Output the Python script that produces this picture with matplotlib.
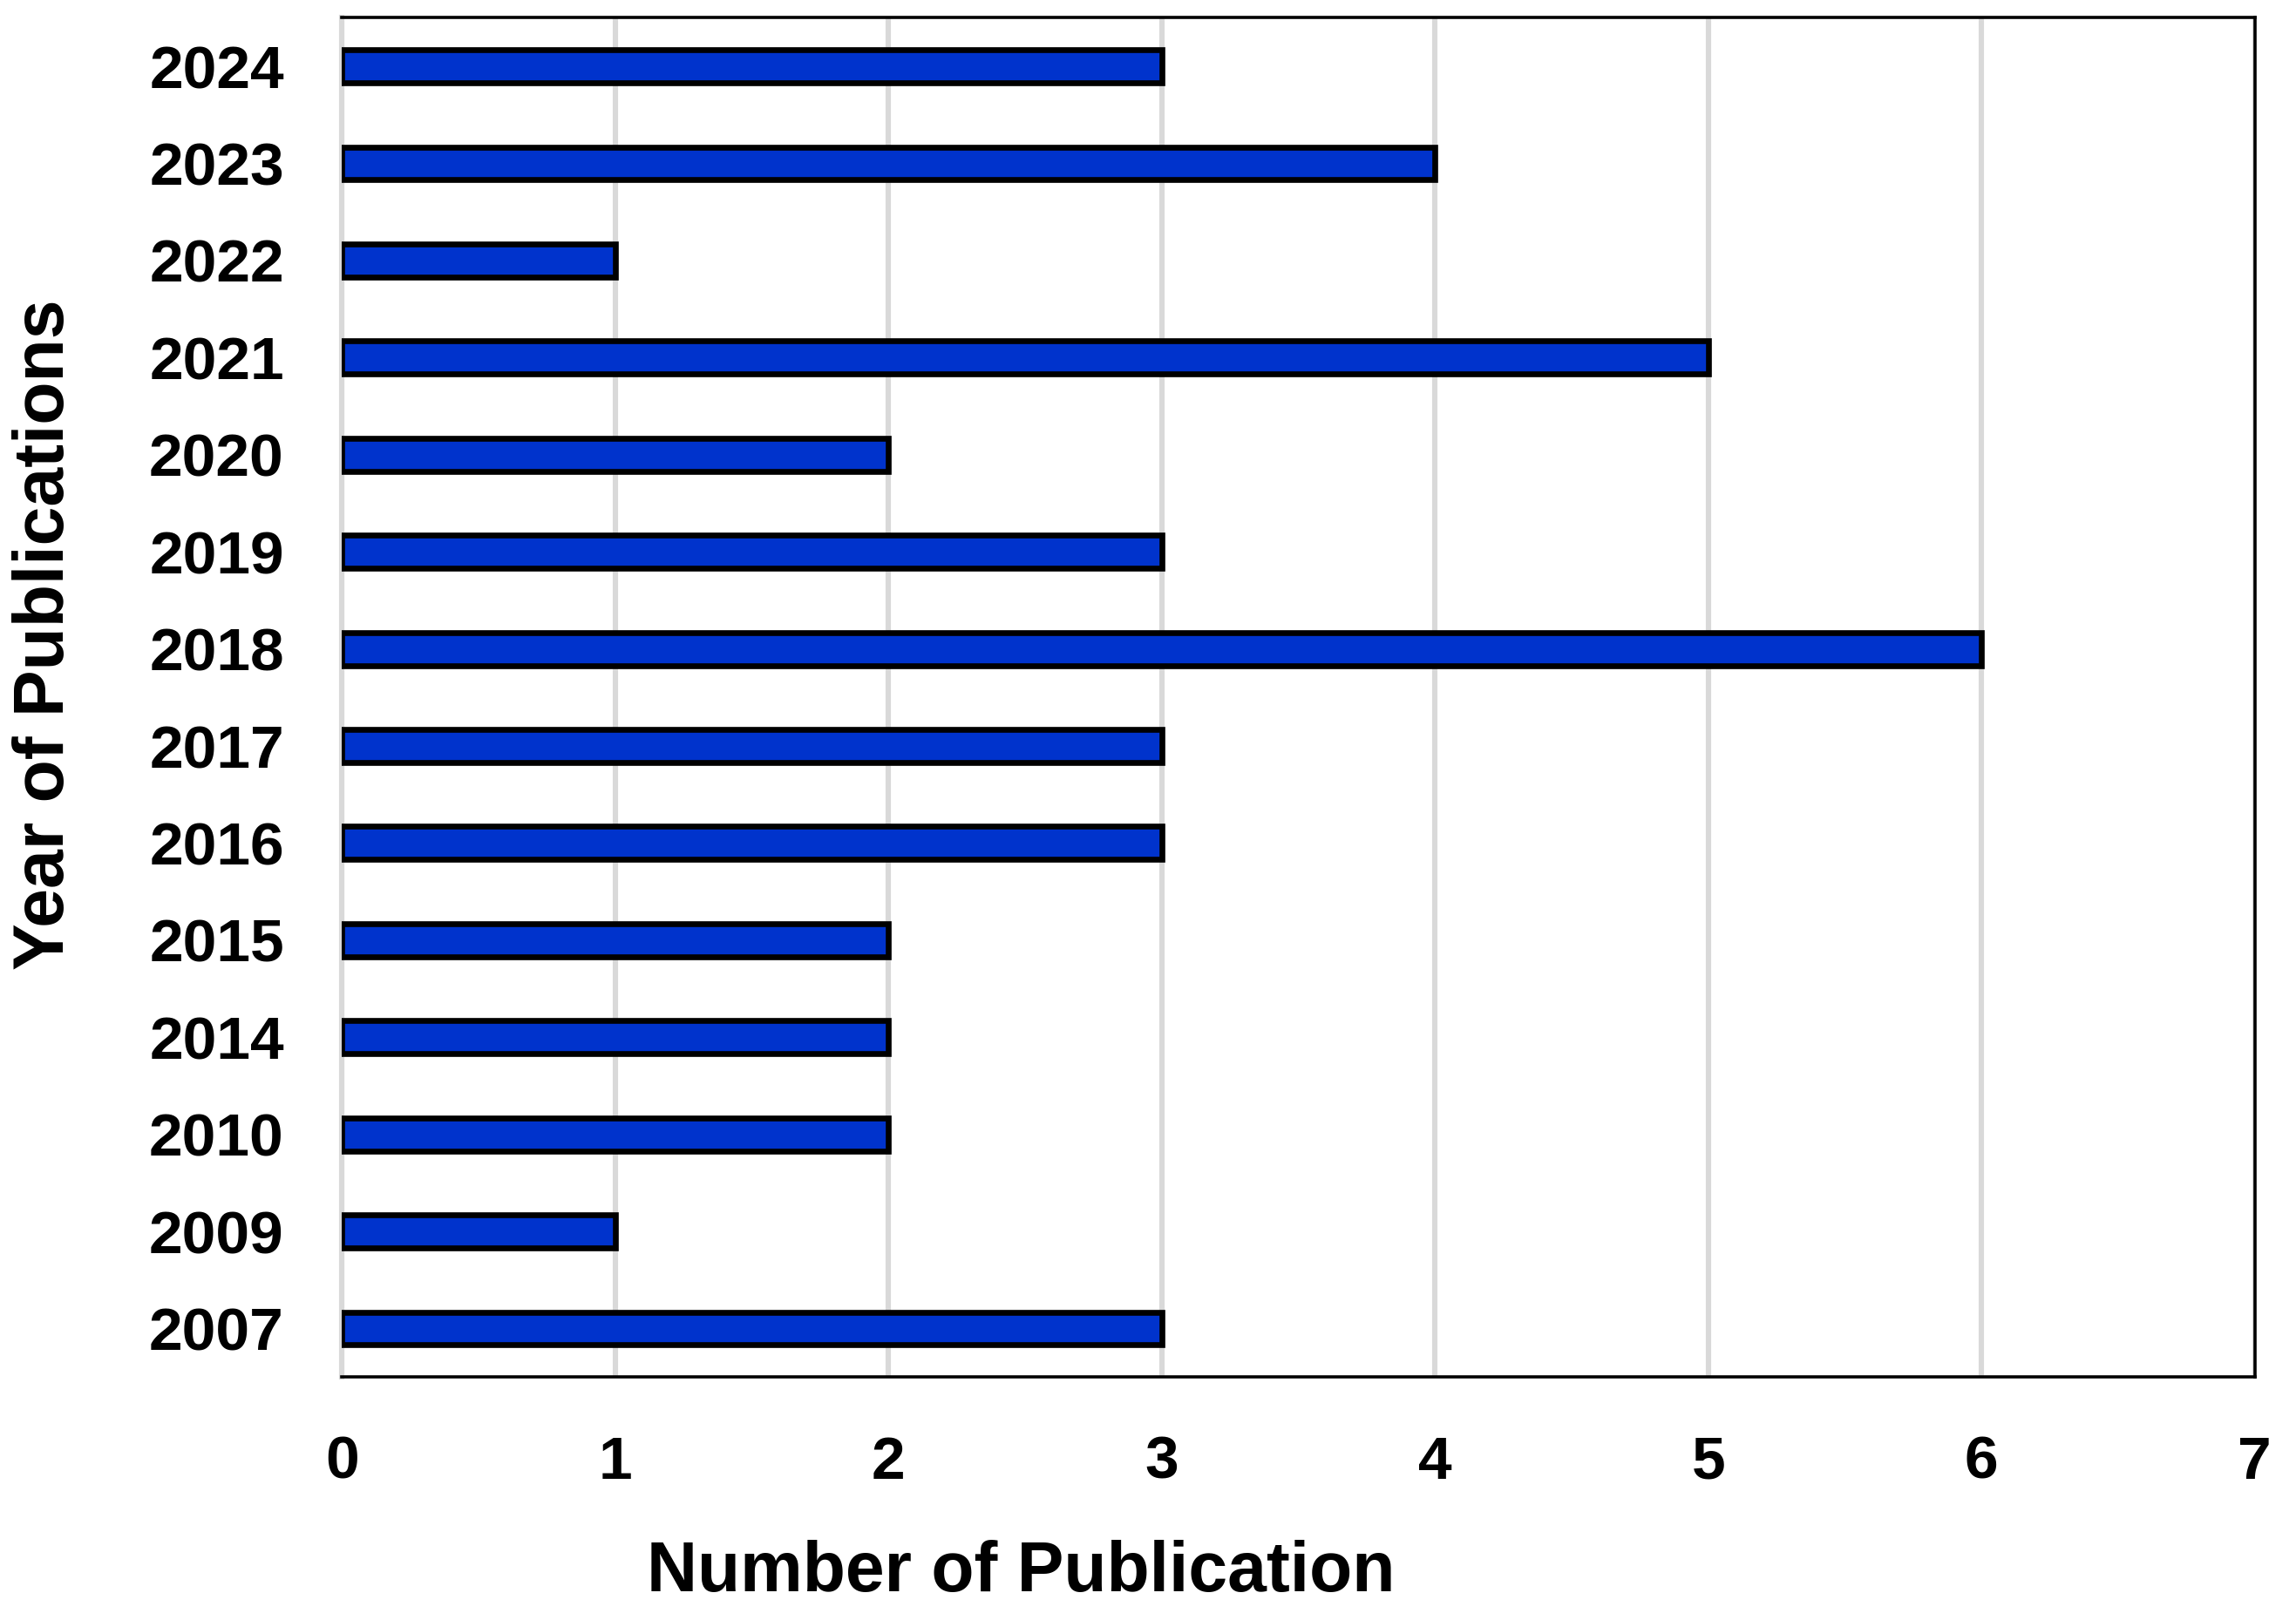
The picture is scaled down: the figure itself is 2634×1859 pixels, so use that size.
import matplotlib
matplotlib.use("Agg")
import matplotlib.pyplot as plt
import numpy as np

# data (top to bottom)
years = ["2024", "2023", "2022", "2021", "2020", "2019", "2018",
         "2017", "2016", "2015", "2014", "2010", "2009", "2007"]
counts = [3, 4, 1, 5, 2, 3, 6, 3, 3, 2, 2, 2, 1, 3]

plt.rcParams['font.family'] = ['Liberation Sans', 'DejaVu Sans']

fig = plt.figure(figsize=(13.17, 9.295), dpi=200)
ax = fig.add_axes([0.149, 0.150, 0.833, 0.839])

y = np.arange(len(years))
ax.barh(y, counts, height=0.34, color='#0033CC', edgecolor='black',
        linewidth=2.4, zorder=3)

ax.set_ylim(len(years) - 0.5, -0.5)
ax.set_xlim(0, 7)
ax.set_xticks(range(8))
ax.set_yticks(y)
ax.set_yticklabels(years)

# vertical grid lines
ax.grid(axis='x', color='#D9D9D9', linewidth=2.2, zorder=0)
ax.set_axisbelow(True)

ax.tick_params(axis='both', length=0, labelsize=25)
ax.tick_params(axis='x', pad=24)
ax.tick_params(axis='y', pad=24)
for lab in ax.get_xticklabels() + ax.get_yticklabels():
    lab.set_fontweight('bold')

for side in ['top', 'right', 'bottom']:
    ax.spines[side].set_color('black')
    ax.spines[side].set_linewidth(1.3)
ax.spines['left'].set_color('#D9D9D9')
ax.spines['left'].set_linewidth(2.2)

ax.set_xlabel('Number of Publication', fontsize=29, fontweight='bold', va='center')
ax.xaxis.set_label_coords(0.355, -0.144)
ax.set_ylabel('Year of Publications', fontsize=29, fontweight='bold', va='center')
ax.yaxis.set_label_coords(-0.155, 0.546)

fig.savefig('out.png', dpi=200)
